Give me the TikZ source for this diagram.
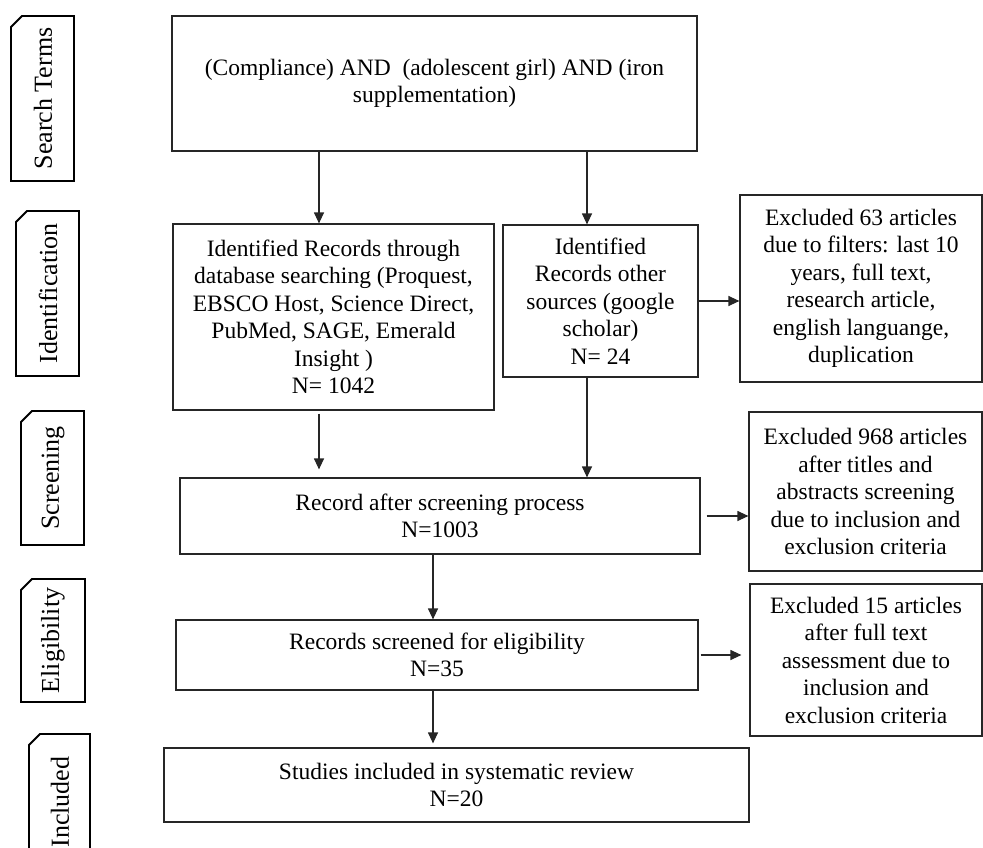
\documentclass[tikz,border=0pt]{standalone}
\usepackage{fontspec}
\setmainfont{Liberation Serif}
\usetikzlibrary{arrows.meta}
\begin{document}
\begin{tikzpicture}[x=1pt,y=-1pt,
  box/.style={draw=black!85,line width=1.2pt,inner sep=0pt,align=center,
    font=\fontsize{23.5}{27.5}\selectfont},
  tabline/.style={draw=black,line width=1.8pt},
  tabtext/.style={rotate=90,inner sep=0pt,font=\fontsize{26}{30}\selectfont},
  arr/.style={draw=black!85,line width=1.2pt,-{Triangle[length=11pt,width=10pt]}}]
\useasboundingbox (0,0) rectangle (983,848);
\clip (0,0) rectangle (983,848);
% stage tabs
\draw[tabline] (11,181) -- (11,27) -- (22,16) -- (74,16) -- (74,181) -- cycle;
\node[tabtext] (tST) at (43,98.5) {Search Terms};
\draw[tabline] (16,376) -- (16,222) -- (27,211) -- (79,211) -- (79,376) -- cycle;
\node[tabtext] (tID) at (48,293.5) {Identification};
\draw[tabline] (21,545) -- (21,422) -- (32,411) -- (84,411) -- (84,545) -- cycle;
\node[tabtext] (tSC) at (53,478) {Screening};
\draw[tabline] (21,702) -- (21,590) -- (32,579) -- (85,579) -- (85,702) -- cycle;
\node[tabtext] (tEL) at (53,640.5) {Eligibility};
\draw[tabline] (29,860) -- (29,745) -- (40,734) -- (90,734) -- (90,860);
\node[tabtext] (tIN) at (60,802) {Included};
% boxes
\node[box,minimum width=525pt,minimum height=135pt] (search) at (434.5,83.5)
  {(Compliance) AND \ (adolescent girl) AND (iron\\supplementation)};
\node[box,minimum width=321pt,minimum height=186pt] (db) at (333.5,317)
  {Identified Records through\\database searching (Proquest,\\EBSCO Host, Science Direct,\\PubMed, SAGE, Emerald\\Insight )\\N= 1042};
\node[box,minimum width=195pt,minimum height=152pt] (other) at (600.5,301)
  {Identified\\Records other\\sources (google\\scholar)\\N= 24};
\node[box,minimum width=242pt,minimum height=187pt] (ex1) at (861,288.5)
  {Excluded 63 articles\\due to filters: last 10\\years, full text,\\research article,\\english languange,\\duplication};
\node[box,minimum width=520pt,minimum height=76pt] (scr) at (440,516)
  {Record after screening process\\N=1003};
\node[box,minimum width=233pt,minimum height=159pt] (ex2) at (865.5,491.5)
  {Excluded 968 articles\\after titles and\\abstracts screening\\due to inclusion and\\exclusion criteria};
\node[box,minimum width=522pt,minimum height=70pt] (elig) at (437,655)
  {Records screened for eligibility\\N=35};
\node[box,minimum width=232pt,minimum height=152pt] (ex3) at (866,660)
  {Excluded 15 articles\\after full text\\assessment due to\\inclusion and\\exclusion criteria};
\node[box,minimum width=585pt,minimum height=74pt] (incl) at (456.5,785)
  {Studies included in systematic review\\N=20};
% arrows
\coordinate (cL) at (319,0);
\coordinate (cR) at (587,0);
\coordinate (cM) at (433,0);
\draw[arr] (search.south -| cL) -- (db.north -| cL);
\draw[arr] (search.south -| cR) -- (other.north -| cR);
\draw[arr] (other.east) -- (other.east -| ex1.west);
\draw[arr] ([yshift=-3pt]db.south -| cL) -- ([yshift=8pt]scr.north -| cL);
\draw[arr] (other.south -| cR) -- (scr.north -| cR);
\draw[arr] ([xshift=6pt]scr.east) -- (scr.east -| ex2.west);
\draw[arr] (scr.south -| cM) -- (elig.north -| cM);
\draw[arr] ([xshift=2pt]elig.east) -- ([xshift=-8pt]elig.east -| ex3.west);
\draw[arr] (elig.south -| cM) -- ([yshift=4pt]incl.north -| cM);
\end{tikzpicture}
\end{document}
